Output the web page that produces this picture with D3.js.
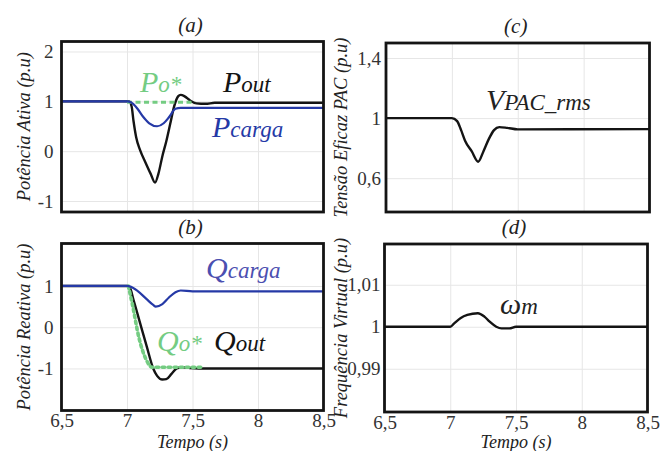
<!DOCTYPE html>
<html>
<head>
<meta charset="utf-8">
<script src="https://cdn.jsdelivr.net/npm/d3@7"></script>
<style>
body { margin: 0; background: #fff; }
svg text { font-family: "Liberation Serif", Tinos, "Times New Roman", Times, "DejaVu Serif", "Noto Serif", serif; fill: #222; }
</style>
</head>
<body>
<svg id="chart"></svg>
<script>
const width = 670;
const height = 451;

const timeTicks = [6.5, 7, 7.5, 8, 8.5];
const pTicks = [-1, 0, 1, 2];
const qTicks = [-1, 0, 1];
const vTicks = [0.6, 1, 1.4];
const wTicks = [0.99, 1, 1.01];

// [tempo (s), valor (p.u)]
const pOut = [[6.5, 1], [7.0, 1], [7.015, 1], [7.035, 0.9], [7.05, 0.6], [7.07, 0.28], [7.1, 0.02],
  [7.14, -0.22], [7.18, -0.45], [7.214, -0.63], [7.24, -0.45], [7.27, -0.1], [7.3, 0.2], [7.33, 0.55],
  [7.36, 0.9], [7.39, 1.1], [7.41, 1.13], [7.44, 1.1], [7.48, 1.02], [7.53, 0.96], [7.6, 0.95],
  [7.67, 0.97], [8.5, 0.97]];
const pCarga = [[6.5, 1], [7.0, 1], [7.03, 0.98], [7.08, 0.85], [7.12, 0.7], [7.17, 0.56], [7.23, 0.5],
  [7.28, 0.56], [7.32, 0.68], [7.37, 0.85], [7.41, 0.87], [8.5, 0.87]];
const pRef = [[7.0, 0.98], [7.52, 0.98]];

const qOut = [[6.5, 1], [7.0, 1], [7.02, 0.97], [7.05, 0.66], [7.1, 0.1], [7.15, -0.46], [7.2, -1.0],
  [7.23, -1.18], [7.27, -1.27], [7.3, -1.26], [7.34, -1.13], [7.38, -1.0], [7.42, -0.97], [7.48, -0.99],
  [7.55, -1.0], [8.5, -1.0]];
const qCarga = [[6.5, 1], [7.0, 1], [7.02, 0.99], [7.08, 0.88], [7.15, 0.68], [7.2, 0.54], [7.22, 0.5],
  [7.27, 0.56], [7.32, 0.72], [7.37, 0.85], [7.41, 0.89], [7.5, 0.87], [8.5, 0.87]];
const qRef = [[7.01, 1.0], [7.04, 0.57], [7.09, -0.24], [7.15, -0.81], [7.19, -0.97], [7.58, -0.97]];

const vPac = [[6.5, 1], [7.0, 1], [7.04, 0.98], [7.07, 0.92], [7.1, 0.85], [7.15, 0.78], [7.2, 0.71],
  [7.24, 0.78], [7.28, 0.86], [7.32, 0.92], [7.36, 0.94], [7.42, 0.935], [7.5, 0.925], [8.5, 0.927]];

const wm = [[6.5, 1], [7.0, 1], [7.03, 1.0008], [7.08, 1.0021], [7.13, 1.0028], [7.21, 1.0032],
  [7.26, 1.0024], [7.3, 1.0012], [7.35, 1.0], [7.39, 0.9996], [7.45, 0.9996], [7.5, 1.0], [8.5, 1.0]];

const black = '#141414';
const blue = '#2539a6';
const green = '#74cc82';

const locale = d3.formatLocale({decimal: ',', thousands: '.', grouping: [3], currency: ['', ''], minus: '-'});
const fmt = locale.format('~g');

const svg = d3.select('#chart').attr('width', width).attr('height', height);

function makePanel(opt) {
  const g = svg.append('g');
  const x = d3.scaleLinear().domain([6.5, 8.5]).range([opt.left, opt.right]);
  const y = d3.scaleLinear().domain(opt.yDomain).range([opt.bottom, opt.top]);

  // grade
  const gy = g.append('g').attr('transform', `translate(${opt.left},0)`)
    .call(d3.axisLeft(y).tickValues(opt.yTicks).tickSize(-(opt.right - opt.left)).tickPadding(opt.yPad).tickFormat(fmt));
  gy.attr('font-family', null);
  gy.select('.domain').remove();
  gy.selectAll('line').attr('stroke', '#e6e6e6');
  gy.selectAll('text').attr('font-size', 19).style('fill', '#333');

  const gx = g.append('g').attr('transform', `translate(0,${opt.bottom})`)
    .call(d3.axisBottom(x).tickValues(timeTicks).tickSize(-(opt.bottom - opt.top)).tickPadding(3)
      .tickFormat(opt.xLabels ? fmt : ''));
  gx.attr('font-family', null);
  gx.select('.domain').remove();
  gx.selectAll('line').attr('stroke', '#e6e6e6');
  gx.selectAll('text').attr('font-size', 19).style('fill', '#333');

  g.append('text')
    .attr('x', (opt.left + opt.right) / 2 - 2).attr('y', opt.top - 10)
    .attr('text-anchor', 'middle').attr('font-size', 21).attr('font-style', 'italic')
    .text(opt.title);

  g.append('text')
    .attr('transform', `translate(${opt.titleX},${(opt.top + opt.bottom) / 2}) rotate(-90)`)
    .attr('text-anchor', 'middle').attr('font-size', 18.5).attr('font-style', 'italic')
    .text(opt.yLabel);

  if (opt.xLabels) {
    g.append('text')
      .attr('x', (opt.left + opt.right) / 2).attr('y', 447.5)
      .attr('text-anchor', 'middle').attr('font-size', 18).attr('font-style', 'italic')
      .text('Tempo (s)');
  }
  return {g, x, y, opt};
}

function drawLine(p, data, color, w, dash) {
  const line = d3.line().x(d => p.x(d[0])).y(d => p.y(d[1])).curve(d3.curveMonotoneX);
  const path = p.g.append('path').datum(data)
    .attr('d', line).attr('fill', 'none')
    .attr('stroke', color).attr('stroke-width', w)
    .attr('stroke-linejoin', 'round');
  if (dash) path.attr('stroke-dasharray', dash);
  return path;
}

function drawFrame(p) {
  const o = p.opt;
  p.g.append('rect').attr('x', o.left).attr('y', o.top)
    .attr('width', o.right - o.left).attr('height', o.bottom - o.top)
    .attr('fill', 'none').attr('stroke', black).attr('stroke-width', 2.8);
}

function label(p, px, py, big, small, color) {
  const t = p.g.append('text').attr('x', px).attr('y', py)
    .attr('font-style', 'italic').style('fill', color);
  t.append('tspan').attr('font-size', 30).text(big);
  t.append('tspan').attr('font-size', 23).text(small);
}

// (a) potência ativa
const pa = makePanel({left: 61.5, right: 323.5, top: 41.5, bottom: 212, yDomain: [-1.22, 2.2], yTicks: pTicks,
  yPad: 8, title: '(a)', yLabel: 'Potência Ativa (p.u)', titleX: 30, xLabels: false});
drawLine(pa, pOut, black, 2.4);
drawLine(pa, pRef, green, 3, '5,3.5');
drawLine(pa, pCarga, blue, 2.2);
label(pa, 140, 92, 'P', 'o*', green);
label(pa, 223, 92, 'P', 'out', black);
label(pa, 212, 137, 'P', 'carga', blue);
drawFrame(pa);

// (b) potência reativa
const pb = makePanel({left: 61.5, right: 323.5, top: 243.5, bottom: 410.5, yDomain: [-2.02, 2.03], yTicks: qTicks,
  yPad: 8, title: '(b)', yLabel: 'Potência Reativa (p.u)', titleX: 30, xLabels: true});
drawLine(pb, qOut, black, 2.4);
drawLine(pb, qRef, green, 3.6, '2.5,3.5').attr('stroke-linecap', 'round');
drawLine(pb, qCarga, blue, 2.2);
label(pb, 206, 278, 'Q', 'carga', '#4b4fb0');
label(pb, 157, 351, 'Q', 'o*', green);
label(pb, 214, 351, 'Q', 'out', black);
drawFrame(pb);

// (c) tensão eficaz no PAC
const pc = makePanel({left: 386, right: 649.5, top: 43, bottom: 212, yDomain: [0.375, 1.5], yTicks: vTicks,
  yPad: 5, title: '(c)', yLabel: 'Tensão Eficaz PAC (p.u)', titleX: 347, xLabels: false});
drawLine(pc, vPac, black, 2.4);
label(pc, 486, 110, 'V', 'PAC_rms', '#222');
drawFrame(pc);

// (d) frequência virtual
const pd = makePanel({left: 384.5, right: 647.5, top: 244, bottom: 412, yDomain: [0.9797, 1.0197], yTicks: wTicks,
  yPad: 4, title: '(d)', yLabel: 'Frequência Virtual (p.u)', titleX: 347, xLabels: true});
drawLine(pd, wm, black, 2.4);
label(pd, 500, 314, 'ω', 'm', '#222');
drawFrame(pd);
</script>
</body>
</html>
